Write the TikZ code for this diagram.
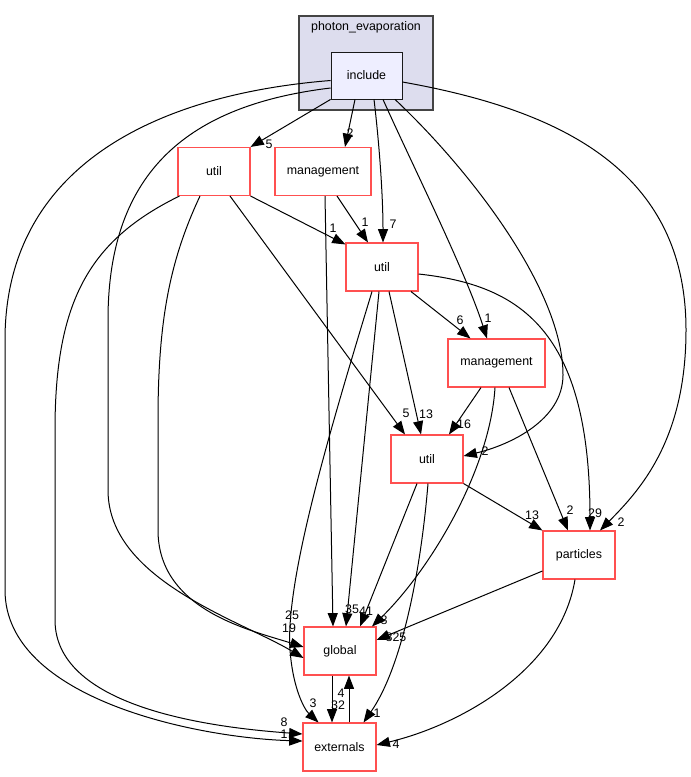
\documentclass[tikz,border=0pt]{standalone}
\usepackage{fontspec}
\setmainfont{Liberation Sans}
\usetikzlibrary{arrows.meta,calc}

\definecolor{dirred}{HTML}{FF5050}
\definecolor{clusterfill}{HTML}{DDDDEE}
\definecolor{clusterline}{HTML}{444444}
\definecolor{incfill}{HTML}{EEEEFF}

\tikzset{
  dirbox/.style={draw=dirred, line width=0.8pt, rectangle, inner sep=0pt,
    minimum width=54pt, minimum height=36pt, font=\fontsize{9.3}{11}\selectfont},
  dep/.style={-{Triangle[length=10pt,width=7.5pt]}, line width=0.75pt},
  lbl/.style={inner sep=0pt, font=\fontsize{9.3}{11}\selectfont},
}

\begin{document}
\begin{tikzpicture}[x=0.75pt, y=-0.75pt]
\useasboundingbox (0,0) rectangle (691,777);

% cluster
\draw[fill=clusterfill, draw=clusterline, line width=0.8pt] (299,16) rectangle (433,110);
\node[lbl] (clus) at (366,27) {photon\_evaporation};

\node[draw=black!90, fill=incfill, line width=0.65pt, rectangle, inner sep=0pt,
  minimum width=53.25pt, minimum height=35.25pt, font=\fontsize{9.3}{11}\selectfont]
  (inc) at (366.5,75.5) {include};

% directories
\node[dirbox] (ut1) at (214,171.5) {util};
\node[dirbox, minimum width=72pt] (mg1) at (323,171.5) {management};
\node[dirbox] (ut2) at (382,267) {util};
\node[dirbox, minimum width=72.75pt] (mg2) at (496.5,363) {management};
\node[dirbox] (ut3) at (427,459) {util};
\node[dirbox] (part) at (579,555) {particles};
\node[dirbox] (glob) at (340,651) {global};
\node[dirbox, minimum width=54.75pt] (ext) at (339.5,747) {externals};

% from include
\draw[dep] (inc.south west) -- (ut1.north east);
\draw[dep] ($(inc.south)+(-11.5,0)$) -- ($(mg1.north)+(22,0)$);
\draw[dep] ($(inc.south)+(7.5,0)$) .. controls (380,150) and (383,200) .. ($(ut2.north)+(1,0)$);
\draw[dep] ($(inc.south)+(16.5,0)$) .. controls (410,160) and (465,270) .. ($(mg2.north)+(-9.5,0)$);
\draw[dep] ($(inc.south)+(28.5,0)$) .. controls (470,170) and (563,290) .. (563,375)
  .. controls (563,420) and (510,445) .. ($(ut3.east)+(0,-3)$);
\draw[dep] ($(inc.east)+(0,6.5)$) .. controls (560,110) and (686,170) .. (686,330)
  .. controls (686,440) and (640,490) .. ($(part.north)+(21,0)$);
\draw[dep] ($(inc.west)+(0,12.5)$) .. controls (190,105) and (108,170) .. (108,320)
  -- (108,490) .. controls (108,580) and (240,620) .. ($(glob.west)+(0,7)$);
\draw[dep] ($(inc.west)+(0,5)$) .. controls (150,95) and (5,170) .. (5,340)
  -- (5,590) .. controls (5,700) and (200,738) .. ($(ext.west)+(0,-6)$);

% from util (top)
\draw[dep] (ut1.south east) -- ($(ut2.north west)+(0,2)$);
\draw[dep] ($(ut1.south)+(16,0)$) -- ($(ut3.north)+(-22,0)$);
\draw[dep] ($(ut1.south)+(-14,0)$) .. controls (170,260) and (158,320) .. (158,420)
  -- (158,530) .. controls (158,610) and (250,630) .. ($(glob.west)+(0,-4)$);
\draw[dep] ($(ut1.south west)+(2,0)$) .. controls (90,240) and (55,300) .. (55,430)
  -- (55,620) .. controls (55,710) and (220,728) .. ($(ext.west)+(0,-13)$);

% from management (top)
\draw[dep] ($(mg1.south)+(14,0)$) -- ($(ut2.north)+(-14,0)$);
\draw[dep] ($(mg1.south)+(2,0)$) -- ($(glob.north)+(-7,0)$);

% from util (middle)
\draw[dep] ($(ut2.south)+(29,0)$) -- ($(mg2.north)+(-26,0)$);
\draw[dep] ($(ut2.south)+(7,0)$) -- ($(ut3.north)+(-6,0)$);
\draw[dep] ($(ut2.east)+(0,7)$) .. controls (520,285) and (590,330) .. ($(part.north)+(11,0)$);
\draw[dep] ($(ut2.south)+(-3,0)$) -- ($(glob.north)+(6,0)$);
\draw[dep] ($(ut2.south)+(-10,0)$) .. controls (330,430) and (285,580) .. (290,650)
  .. controls (293,690) and (305,710) .. ($(ext.north)+(-21,0)$);

% from management (middle)
\draw[dep] ($(mg2.south)+(-15.5,0)$) -- ($(ut3.north)+(22,0)$);
\draw[dep] ($(mg2.south)+(-1.5,0)$) .. controls (490,470) and (430,570) .. ($(glob.north)+(32,0)$);
\draw[dep] ($(mg2.south)+(12.5,0)$) -- ($(part.north)+(-11,0)$);

% from util (bottom)
\draw[dep] (ut3.south east) -- (part.north west);
\draw[dep] ($(ut3.south)+(-10,0)$) -- ($(glob.north)+(20,0)$);
\draw[dep] ($(ut3.south)+(1,0)$) .. controls (420,580) and (400,670) .. ($(ext.north)+(24,0)$);

% particles, global, externals
\draw[dep] ($(part.west)+(0,16)$) -- ($(glob.east)+(0,-11)$);
\draw[dep] ($(part.south)+(-4,0)$) .. controls (560,670) and (460,725) .. ($(ext.east)+(0,-2)$);
\draw[dep] ($(glob.south)+(-8,0)$) -- ($(ext.north)+(-7.5,0)$);
\draw[dep] ($(ext.north)+(9.5,0)$) -- ($(glob.south)+(9,0)$);

% edge labels
\node[lbl] (l-inc-ut1) at (269,144) {5};
\node[lbl] (l-inc-mg1) at (350,133) {2};
\node[lbl] (l-inc-ut2) at (393,224) {7};
\node[lbl] (l-inc-mg2) at (488,318) {1};
\node[lbl] (l-inc-ut3) at (485,451) {2};
\node[lbl] (l-inc-part) at (621,522) {2};
\node[lbl] (l-inc-glob) at (289,628) {19};
\node[lbl] (l-inc-ext) at (284,734) {1};
\node[lbl] (l-ut1-ut2) at (333,228) {1};
\node[lbl] (l-ut1-ut3) at (406,413) {5};
\node[lbl] (l-ut1-glob) at (292,615) {25};
\node[lbl] (l-ut1-ext) at (284,722) {8};
\node[lbl] (l-mg1-ut2) at (365,222) {1};
\node[lbl] (l-ut2-mg2) at (460,320) {6};
\node[lbl] (l-ut2-ut3) at (426,414) {13};
\node[lbl] (l-ut2-part) at (595,513) {29};
\node[lbl] (l-ut2-glob) at (352,609) {35};
\node[lbl] (l-ut2-ext) at (313,703) {3};
\node[lbl] (l-mg2-ut3) at (464,424) {16};
\node[lbl] (l-mg2-glob) at (384,620) {8};
\node[lbl] (l-mg2-part) at (570,510) {2};
\node[lbl] (l-ut3-part) at (532,515) {13};
\node[lbl] (l-ut3-glob) at (366,611) {41};
\node[lbl] (l-ut3-ext) at (377,713) {1};
\node[lbl] (l-part-glob) at (396,637) {825};
\node[lbl] (l-part-ext) at (396,744) {4};
\node[lbl] (l-glob-ext) at (338,705) {32};
\node[lbl] (l-ext-glob) at (341,693) {4};
\end{tikzpicture}
\end{document}
